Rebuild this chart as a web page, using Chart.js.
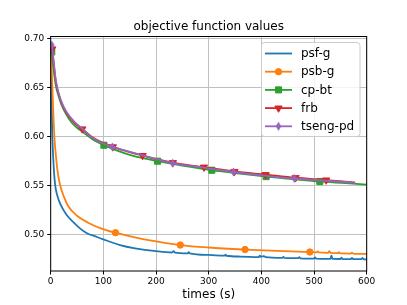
<!DOCTYPE html>
<html lang="en">
	<head>
		<meta charset="UTF-8" />
		<title>objective function values</title>
		<style>
			body { margin: 0; background: #fff; }
			canvas { display: block; }
		</style>
	</head>

	<body>
		<canvas id="myChart" width="407" height="305"></canvas>

		<script src="https://cdn.jsdelivr.net/npm/chart.js@4.4.0/dist/chart.umd.min.js"></script>
		<script>
			// series names and colours (matplotlib tab10)
			var names = ["psf-g", "psb-g", "cp-bt", "frb", "tseng-pd"];
			var colors = ["#1f77b4", "#ff7f0e", "#2ca02c", "#d62728", "#9467bd"];

			// axis ticks
			var xTicks = [0, 100, 200, 300, 400, 500, 600];
			var yTicks = [0.5, 0.55, 0.6, 0.65, 0.7];

			// psf-g (time, value)
			var psfT = [0.3, 1, 2, 3, 5, 8, 12, 19.5, 30, 43, 55, 68, 85, 100, 131.6, 160, 200, 230, 233, 236, 260, 262, 264, 300, 330, 332, 334, 360, 395, 397, 399, 405, 408, 440, 442, 444, 470, 472, 474, 500, 502, 504, 531, 533, 535, 550, 552, 554, 570, 572, 574, 590, 592, 594, 600];
			var psfV = [0.69, 0.662, 0.625, 0.602, 0.576, 0.553, 0.541, 0.53, 0.5205, 0.513, 0.507, 0.502, 0.4985, 0.4955, 0.4898, 0.4865, 0.4835, 0.4822, 0.4836, 0.4821, 0.4814, 0.4826, 0.4813, 0.4797, 0.479, 0.48, 0.4789, 0.4781, 0.4774, 0.479, 0.4778, 0.4786, 0.4775, 0.4768, 0.4778, 0.4767, 0.4764, 0.4776, 0.4763, 0.476, 0.4772, 0.4759, 0.4757, 0.479, 0.4757, 0.4756, 0.477, 0.4756, 0.4755, 0.4768, 0.4755, 0.4754, 0.4766, 0.4753, 0.4753];

			// psb-g
			var psbT = [0.3, 2, 4, 7, 10, 13, 17.7, 25, 33, 50, 71, 95, 123, 160, 200, 246, 300, 369, 430, 480, 492, 505, 507, 509, 527, 529, 531, 545, 547, 549, 570, 572, 574, 600];
			var psbV = [0.69, 0.667, 0.638, 0.6, 0.58, 0.565, 0.551, 0.539, 0.5295, 0.5195, 0.5125, 0.5068, 0.5023, 0.4975, 0.4935, 0.4898, 0.4873, 0.4852, 0.4838, 0.4829, 0.4827, 0.4824, 0.4834, 0.4823, 0.4819, 0.4836, 0.4819, 0.4816, 0.4826, 0.4815, 0.4811, 0.4821, 0.4811, 0.4807];
			var psbMarks = [123, 246, 369, 492];

			// cp-bt
			var cpT = [2, 5, 10, 15, 20, 30, 40, 50, 60, 80, 101, 125, 150, 175, 203, 250, 306, 350, 409, 460, 511, 560, 600];
			var cpV = [0.686, 0.67, 0.651, 0.641, 0.633, 0.622, 0.614, 0.609, 0.605, 0.597, 0.5912, 0.586, 0.5815, 0.578, 0.575, 0.5705, 0.5658, 0.5628, 0.5593, 0.5568, 0.5544, 0.5527, 0.5512];
			var cpMarks = [2, 101, 203, 306, 409, 511];

			// frb
			var frbT = [3, 5, 10, 20, 30, 45, 60, 80, 118, 145, 174.5, 203, 232, 261, 291, 349, 408, 465, 523, 578];
			var frbV = [0.689, 0.678, 0.655, 0.635, 0.624, 0.614, 0.6077, 0.599, 0.5895, 0.585, 0.5807, 0.5768, 0.5735, 0.571, 0.5689, 0.5645, 0.5613, 0.5582, 0.5558, 0.5533];
			var frbMarks = [3, 60, 118, 174.5, 232, 291, 349, 408, 465, 523];

			// tseng-pd
			var tsengT = [2, 5, 10, 20, 30, 45, 60, 80, 117, 150, 175, 231.6, 290, 347, 405, 462.5, 520, 578];
			var tsengV = [0.693, 0.68, 0.656, 0.636, 0.625, 0.615, 0.608, 0.5985, 0.5895, 0.5845, 0.5808, 0.573, 0.5685, 0.564, 0.5604, 0.5574, 0.5553, 0.5531];
			var tsengMarks = [2, 117, 231.6, 347, 462.5];

			// thin diamond marker like matplotlib "d"
			function thinDiamond(color) {
				var c = document.createElement("canvas");
				c.width = 7;
				c.height = 10;
				var g = c.getContext("2d");
				g.fillStyle = color;
				g.beginPath();
				g.moveTo(3.5, 0.5);
				g.lineTo(6.3, 5);
				g.lineTo(3.5, 9.5);
				g.lineTo(0.7, 5);
				g.closePath();
				g.fill();
				return c;
			}

			var markers = [
				{ style: "circle", radius: 0, rotation: 0 },
				{ style: "circle", radius: 3.2, rotation: 0 },
				{ style: "rect", radius: 4.3, rotation: 0 },
				{ style: "triangle", radius: 4.2, rotation: 180 },
				{ style: thinDiamond(colors[4]), radius: 4, rotation: 0 },
			];

			function makeSet(i, T, V, marks) {
				var m = markers[i];
				return {
					label: names[i],
					data: T.map(function (t, k) { return { x: t, y: V[k] }; }),
					borderColor: colors[i],
					backgroundColor: colors[i],
					borderWidth: 1.8,
					cubicInterpolationMode: "monotone",
					pointStyle: m.style,
					pointRotation: m.rotation,
					pointRadius: T.map(function (t) { return marks.indexOf(t) >= 0 ? m.radius : 0; }),
					pointBorderWidth: 1,
					pointHoverRadius: 0,
					order: 5 - i,
					clip: 0,
				};
			}

			Chart.defaults.font.family = "'DejaVu Sans', sans-serif";
			Chart.defaults.font.size = 9;
			Chart.defaults.color = "#000";

			// title, axis label, spines and legend in matplotlib style
			var mplDecor = {
				id: "mplDecor",
				afterDraw: function (chart) {
					var ctx = chart.ctx;
					var a = chart.chartArea;
					var cx = (a.left + a.right) / 2;
					ctx.save();
					ctx.strokeStyle = "#000";
					ctx.lineWidth = 1;
					ctx.strokeRect(a.left, a.top, a.right - a.left, a.bottom - a.top);

					ctx.fillStyle = "#000";
					ctx.font = "12px 'DejaVu Sans'";
					ctx.textAlign = "center";
					ctx.textBaseline = "middle";
					ctx.fillText("objective function values", cx, 27);
					ctx.fillText("times (s)", cx, 295);

					// legend
					var lx = 261.5, ly = 42.5, lw = 98.5, lh = 94;
					ctx.beginPath();
					ctx.roundRect(lx, ly, lw, lh, 3);
					ctx.fillStyle = "rgba(255,255,255,0.8)";
					ctx.fill();
					ctx.strokeStyle = "#cccccc";
					ctx.stroke();
					ctx.font = "12px 'DejaVu Sans'";
					ctx.textAlign = "left";
					for (var i = 0; i < names.length; i++) {
						var y = 53.5 + i * 18.2;
						ctx.strokeStyle = colors[i];
						ctx.lineWidth = 1.8;
						ctx.beginPath();
						ctx.moveTo(265, y);
						ctx.lineTo(292, y);
						ctx.stroke();
						if (markers[i].radius > 0) {
							ctx.fillStyle = colors[i];
							ctx.lineWidth = 1;
							Chart.helpers.drawPoint(ctx, {
								pointStyle: markers[i].style,
								radius: markers[i].radius,
								rotation: markers[i].rotation,
								borderWidth: 1,
							}, 278.5, y);
						}
						ctx.fillStyle = "#000";
						ctx.fillText(names[i], 301, y + 0.5);
					}
					ctx.restore();
				},
			};

			var myChart = document.getElementById("myChart").getContext("2d");
			var chart = new Chart(myChart, {
				type: "line",
				data: {
					datasets: [
						makeSet(0, psfT, psfV, []),
						makeSet(1, psbT, psbV, psbMarks),
						makeSet(2, cpT, cpV, cpMarks),
						makeSet(3, frbT, frbV, frbMarks),
						makeSet(4, tsengT, tsengV, tsengMarks),
					],
				},
				options: {
					responsive: false,
					animation: false,
					events: [],
					layout: { padding: { top: 36.5, right: 40.3, left: 0, bottom: 0 } },
					plugins: { legend: { display: false }, title: { display: false }, tooltip: { enabled: false } },
					scales: {
						x: {
							type: "linear",
							min: 0,
							max: 600,
							afterFit: function (s) { s.height = 34; },
							afterBuildTicks: function (s) { s.ticks = xTicks.map(function (v) { return { value: v }; }); },
							grid: { color: "#c0c0c0", lineWidth: 1, tickLength: 3.5, tickColor: "#000", tickWidth: 1 },
							border: { display: false },
							ticks: { padding: 2, maxRotation: 0, autoSkip: false },
						},
						y: {
							type: "linear",
							min: 0.4634,
							max: 0.7017,
							afterFit: function (s) { s.width = 50.7; },
							afterBuildTicks: function (s) { s.ticks = yTicks.map(function (v) { return { value: v }; }); },
							grid: { color: "#c0c0c0", lineWidth: 1, tickLength: 3.5, tickColor: "#000", tickWidth: 1 },
							border: { display: false },
							ticks: { padding: 3, autoSkip: false, callback: function (v) { return v.toFixed(2); } },
						},
					},
				},
				plugins: [mplDecor],
			});
		</script>
	</body>
</html>
